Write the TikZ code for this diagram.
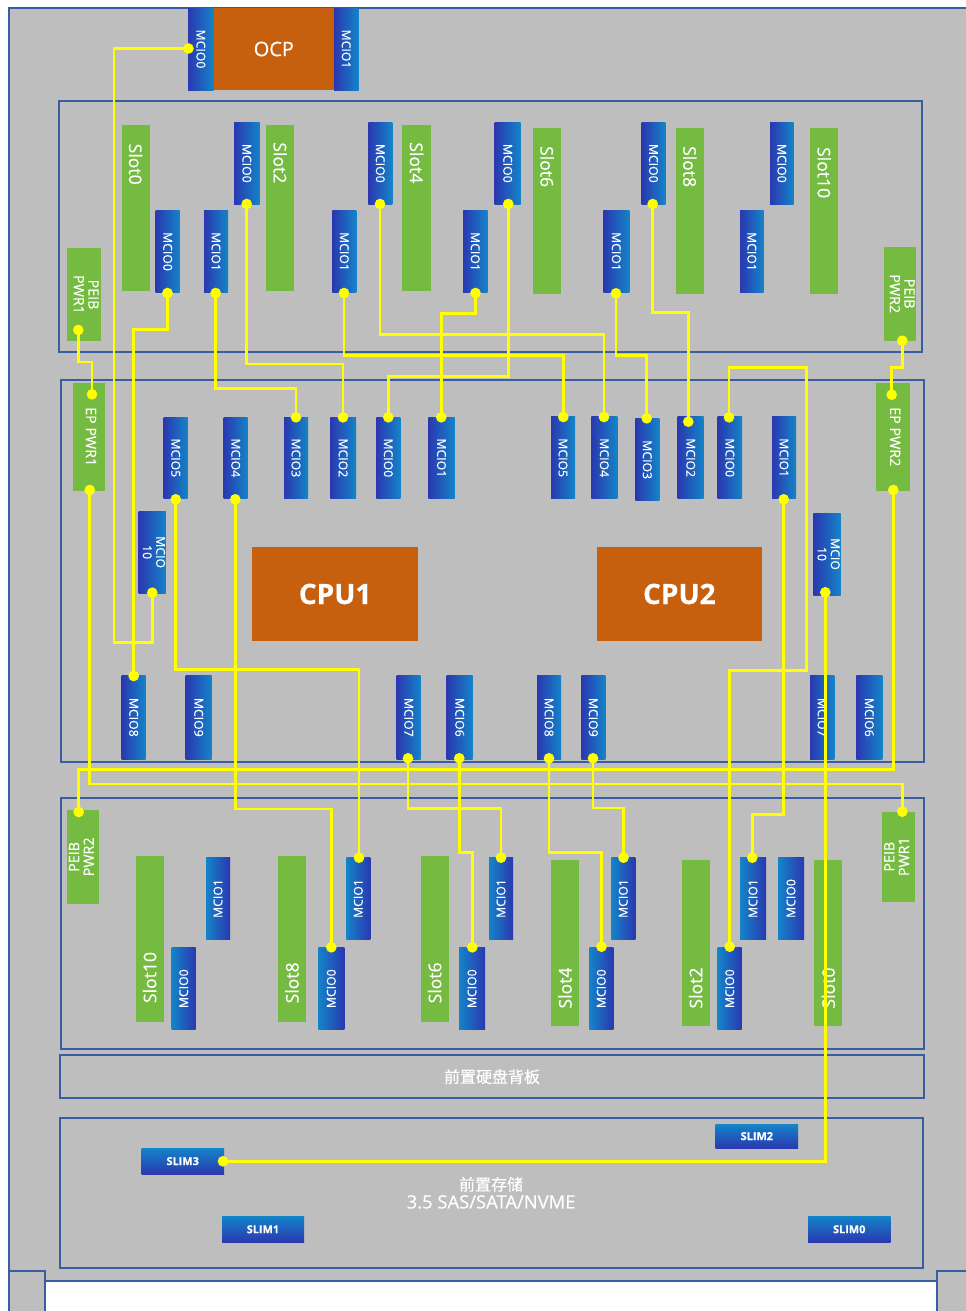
\documentclass[tikz,border=0pt]{standalone}
\usepackage{fontspec}
\usetikzlibrary{shadings}
\setmainfont[FakeBold=0.35]{Open Sans}
\newfontfamily\cjkf[FakeBold=0.35]{Noto Sans CJK SC}
\definecolor{bggray}{HTML}{BEBEBE}
\definecolor{edgeblue}{HTML}{3A5CA0}
\definecolor{darkb}{HTML}{2A38B0}
\definecolor{liteb}{HTML}{1484C8}
\definecolor{slotg}{HTML}{75BB42}
\definecolor{cpuo}{HTML}{C6600E}
\definecolor{wirey}{HTML}{FFFF00}
\tikzset{
  base/.style={inner sep=0pt,outer sep=0pt,text=white,align=center,font=\fontsize{9.2}{10.5}\selectfont},
  mcioup/.style={base,left color=darkb,right color=liteb},
  mciodn/.style={base,left color=liteb,right color=darkb},
  slim/.style={base,top color=liteb,bottom color=darkb,font=\bfseries\fontsize{8.2}{9}\selectfont},
  slotb/.style={base,fill=slotg,font=\fontsize{13.2}{15}\selectfont},
  pwrb/.style={base,fill=slotg,font=\fontsize{10.7}{12}\selectfont},
  cpub/.style={base,fill=cpuo,font=\bfseries\fontsize{21}{24}\selectfont},
  ocpb/.style={base,fill=cpuo,font=\fontsize{15}{18}\selectfont},
  board/.style={base,draw=edgeblue,line width=1.5pt,font=\fontsize{13.8}{13.5}\selectfont},
  dot/.style={circle,fill=wirey,inner sep=0pt,minimum size=8pt,outer sep=0pt},
  wire/.style={draw=wirey,line width=2.1pt,line join=miter},
  frame/.style={draw=edgeblue,line width=1.4pt}
}
% generic box: style, name, x0,y0,x1,y1, content
\newcommand\bx[7]{\node[#1,minimum width={(#5-#3)*0.75pt},minimum height={(#6-#4)*0.75pt}] (#2) at ({(#3+#5)/2},{(#4+#6)/2}) {#7};}
\newcommand\mcu[6]{\bx{mcioup}{#1}{#2}{#3}{#4}{#5}{\rotatebox{-90}{#6}}}
\newcommand\mcd[6]{\bx{mciodn}{#1}{#2}{#3}{#4}{#5}{\rotatebox{90}{#6}}}
% slot: name,x0,y0,x1,y1,angle,shift,text
\newcommand\slotb[8]{\bx{slotb}{#1}{#2}{#3}{#4}{#5}{\rotatebox{#6}{#8\hspace*{#7pt}}}}
\newcommand\pwr[7]{\bx{pwrb}{#1}{#2}{#3}{#4}{#5}{\rotatebox{#6}{\begin{tabular}{@{}c@{}}#7\end{tabular}}}}
\newcommand\pd[3]{\node[dot] (#1) at (#2,#3) {};}
% wire: vertical, horizontal at level y, vertical
\newcommand\vhv[3]{\draw[wire] (#1.center) |- (#2.center |- 0,#3) -- (#2.center);}
\begin{document}
\begin{tikzpicture}[x=0.75pt,y=-0.75pt]
\useasboundingbox (0,0) rectangle (965,1311);
\fill[white] (0,0) rectangle (965,1311);
% chassis
\path[fill=bggray] (9,8) -- (968,8) -- (968,1315) -- (937,1315) -- (937,1281) -- (45,1281) -- (45,1315) -- (9,1315) -- cycle;
\draw[frame] (968,8) -- (9,8) -- (9,1315);
\draw[frame] (45,1315) -- (45,1281) -- (937,1281) -- (937,1315);
\draw[frame] (9,1271) -- (45,1271) -- (45,1281);
\draw[frame] (937,1281) -- (937,1271) -- (968,1271);
% boards
\bx{board}{topboard}{59}{101}{921.7}{352}{}
\bx{board}{midboard}{61}{380}{923.7}{762.3}{}
\bx{board}{lowboard}{60.7}{798.3}{923.7}{1049}{}
\bx{board}{backplane}{60.3}{1055.3}{923.7}{1098}{{\cjkf\fontsize{12}{14}\selectfont 前置硬盘背板}}
\bx{board}{storage}{59.7}{1117.7}{922.5}{1268}{{\cjkf\fontsize{12}{13.5}\selectfont 前置存储}\\3.5 SAS/SATA/NVME}
% OCP
\bx{ocpb}{ocp}{213.7}{8}{334}{90}{\raisebox{-1.5pt}{OCP}}
\mcu{ocpa}{188}{8}{213.7}{90}{MCIO0}
\mcu{ocpb}{334}{8}{358.5}{90}{MCIO1}
% top board slots
\slotb{tslot0}{121.5}{124.5}{149.7}{290.5}{-90}{65}{Slot0}
\slotb{tslot2}{266}{124.5}{294.3}{290.5}{-90}{67}{Slot2}
\slotb{tslot4}{402.3}{124.5}{430.7}{290.5}{-90}{67}{Slot4}
\slotb{tslot6}{533}{128.3}{561}{294.3}{-90}{67}{Slot6}
\slotb{tslot8}{676}{128.3}{703.7}{294.3}{-90}{67}{Slot8}
\slotb{tslot10}{810.3}{128.3}{838}{294.3}{-90}{58}{Slot10}
\mcu{ta}{155.7}{210.5}{179.7}{292.5}{MCIO0}
\mcu{tb}{204}{210.5}{228}{292.5}{MCIO1}
\mcu{tc}{234}{122.3}{259.7}{204.3}{MCIO0}
\mcu{td}{332.3}{210.5}{356.3}{292.5}{MCIO1}
\mcu{te}{368.3}{122.3}{392.3}{204.3}{MCIO0}
\mcu{tf}{463}{210.5}{487.5}{292.5}{MCIO1}
\mcu{tg}{494.7}{122.3}{520.7}{204.3}{MCIO0}
\mcu{th}{603.3}{210.5}{629.3}{292.5}{MCIO1}
\mcu{ti}{641.7}{122.3}{665.3}{204.3}{MCIO0}
\mcu{tj}{740}{210.5}{763.7}{292.5}{MCIO1}
\mcu{tk}{770}{122.3}{793.7}{204.3}{MCIO0}
\pwr{peiba}{67.3}{248.3}{101.3}{340.7}{-90}{PEIB\\[-1pt]PWR1}
\pwr{peibb}{884.3}{246.7}{916.3}{340.7}{-90}{PEIB\\[-1pt]PWR2}
% middle board
\pwr{epa}{73.3}{382.7}{105}{490.7}{-90}{EP PWR1}
\pwr{epb}{876.3}{383}{910.3}{490.7}{-90}{EP PWR2}
\bx{cpub}{cpua}{252}{547}{418.3}{641}{\raisebox{-0.7pt}{CPU1}}
\bx{cpub}{cpub}{597}{547}{761.7}{641}{\raisebox{-0.7pt}{CPU2}}
\mcu{la5}{163.7}{417}{187.7}{498.7}{MCIO5}
\mcu{la4}{223.7}{417}{247.7}{498.7}{MCIO4}
\mcu{la3}{284}{417}{308}{498.7}{MCIO3}
\mcu{la2}{330.3}{417}{356}{498.7}{MCIO2}
\mcu{la0}{376.3}{417}{400.3}{498.7}{MCIO0}
\mcu{la1}{428.3}{417}{454.7}{498.7}{MCIO1}
\mcu{ra5}{551}{416.7}{575}{498.7}{MCIO5}
\mcu{ra4}{591.3}{416.7}{617.3}{498.7}{MCIO4}
\mcu{ra3}{635.3}{418.7}{659.3}{500.7}{MCIO3}
\mcu{ra2}{677.7}{416.7}{703.7}{498.7}{MCIO2}
\mcu{ra0}{717.7}{416.7}{742}{498.7}{MCIO0}
\mcu{ra1}{772}{416.7}{796}{498.7}{MCIO1}
\mcu{la10}{139.3}{511}{165.3}{593.3}{\begin{tabular}{@{}c@{}}MCIO\\[-0.5pt]10\end{tabular}}
\mcu{ra10}{814}{513}{840}{595}{\begin{tabular}{@{}c@{}}MCIO\\[-0.5pt]10\end{tabular}}
\mcu{la8}{121.7}{675.3}{145.7}{759.3}{MCIO8}
\mcu{la9}{185.7}{675.3}{211.7}{759.3}{MCIO9}
\mcu{la7}{396.7}{675.3}{420.7}{759.3}{MCIO7}
\mcu{la6}{446.7}{675.3}{472.7}{759.3}{MCIO6}
\mcu{ra8}{537}{675.3}{561}{759.3}{MCIO8}
\mcu{ra9}{581.3}{675.3}{605.3}{759.3}{MCIO9}
\mcu{ra7}{810}{675.3}{834.3}{759.3}{MCIO7}
\mcu{ra6}{856.3}{675.3}{882.3}{759.3}{MCIO6}
% low board
\pwr{peibc}{67.3}{810}{99.3}{903.7}{90}{PEIB\\[-1pt]PWR2}
\pwr{peibd}{882.3}{811.7}{914.7}{901.7}{90}{PEIB\\[-1pt]PWR1}
\slotb{bslot10}{135.7}{856}{163.7}{1021.7}{90}{58}{Slot10}
\slotb{bslot8}{278}{856}{306}{1021.7}{90}{66}{Slot8}
\slotb{bslot6}{420.7}{856}{448.7}{1021.7}{90}{66}{Slot6}
\slotb{bslot4}{551}{859.7}{579}{1025.7}{90}{68}{Slot4}
\slotb{bslot2}{681.7}{859.7}{709.7}{1025.7}{90}{68}{Slot2}
\slotb{bslot0}{814.3}{859.7}{842.3}{1025.7}{90}{68}{Slot0}
\mcd{ba}{206}{857.3}{230}{939.7}{MCIO1}
\mcd{bb}{171.7}{947.7}{195.7}{1029.7}{MCIO0}
\mcd{bc}{318.3}{947.7}{344.3}{1029.7}{MCIO0}
\mcd{bd}{346.3}{857.3}{370.3}{939.7}{MCIO1}
\mcd{be}{459}{947.7}{485}{1029.7}{MCIO0}
\mcd{bf}{489}{857.3}{513}{939.7}{MCIO1}
\mcd{bg}{589.3}{947.7}{613.3}{1029.7}{MCIO0}
\mcd{bh}{611.3}{857.3}{635.3}{939.7}{MCIO1}
\mcd{bi}{717.7}{947.7}{741.7}{1029.7}{MCIO0}
\mcd{bj}{740}{857.3}{766}{939.7}{MCIO1}
\mcd{bk}{778}{857.3}{804}{939.7}{MCIO0}
% storage connectors
\bx{slim}{slim2}{715.7}{1124}{798}{1148.3}{SLIM2}
\bx{slim}{slim3}{141.5}{1148}{224}{1174.3}{SLIM3}
\bx{slim}{slim1}{222}{1216.3}{304}{1242.3}{SLIM1}
\bx{slim}{slim0}{808}{1216.3}{890.5}{1242.3}{SLIM0}
% pin dots
\pd{pocp}{188.5}{48.5}
\pd{pla10}{152.3}{592.7}
\pd{pta}{167.5}{293}
\pd{pla8}{133.7}{676}
\pd{ptb}{215.7}{293}
\pd{pla3}{296}{417.3}
\pd{ptc}{246.7}{204}
\pd{pla2}{343}{417.3}
\pd{ptd}{344}{293}
\pd{pra5}{563.3}{417}
\pd{pte}{380}{204}
\pd{pra4}{604}{417}
\pd{ptf}{475.5}{293}
\pd{pla1}{441.3}{417.3}
\pd{ptg}{508.3}{204}
\pd{pla0}{388.3}{417.3}
\pd{pti}{652.7}{204}
\pd{pra2}{688.3}{421.7}
\pd{pth}{616}{293.3}
\pd{pra3}{646.7}{418.3}
\pd{pra0}{729}{417.3}
\pd{pbi}{729.7}{946.7}
\pd{pra1}{783.7}{499.3}
\pd{pbj}{752.3}{857.7}
\pd{pra10}{825.3}{592.3}
\pd{pslim3}{223}{1161.3}
\pd{ppa}{78.3}{330}
\pd{pepa}{92}{394.3}
\pd{ppb}{902.3}{340.7}
\pd{pepb}{891.7}{394.7}
\pd{pepbb}{893.3}{490}
\pd{ppc}{78.7}{812}
\pd{pepab}{89.7}{490}
\pd{ppd}{902.3}{811.7}
\pd{pla5}{175.7}{499.3}
\pd{pbd}{359}{857.7}
\pd{pla4}{235.3}{499.3}
\pd{pbc}{331.3}{947.3}
\pd{pla7}{408}{758.3}
\pd{pbf}{501}{857.7}
\pd{pla6}{459.3}{758.3}
\pd{pbe}{472.3}{947.3}
\pd{pra8}{549}{758.3}
\pd{pbg}{601.5}{946.7}
\pd{pra9}{593}{758.3}
\pd{pbh}{623.5}{857.7}
% wires
\draw[wire] (pocp.center) -| (114,642.7) -| (pla10.center);
\vhv{pta}{pla8}{329.3}
\vhv{ptb}{pla3}{388.3}
\vhv{ptc}{pla2}{364}
\vhv{ptd}{pra5}{355.3}
\vhv{pte}{pra4}{334.3}
\vhv{ptf}{pla1}{313.3}
\vhv{ptg}{pla0}{376.3}
\vhv{pti}{pra2}{312.7}
\vhv{pth}{pra3}{355.7}
\draw[wire] (pra0.center) |- (806.3,367.3) |- (pbi.center |- 0,670.7) -- (pbi.center);
\vhv{pra1}{pbj}{814.7}
\draw[wire] (pra10.center) |- (pslim3.center);
\vhv{ppa}{pepa}{362}
\vhv{ppb}{pepb}{367.7}
\vhv{pepbb}{ppc}{769.7}
\vhv{pepab}{ppd}{784}
\vhv{pla5}{pbd}{669.3}
\vhv{pla4}{pbc}{809}
\vhv{pla7}{pbf}{808.3}
\vhv{pla6}{pbe}{852.7}
\vhv{pra8}{pbg}{852.3}
\vhv{pra9}{pbh}{808}
\end{tikzpicture}
\end{document}
